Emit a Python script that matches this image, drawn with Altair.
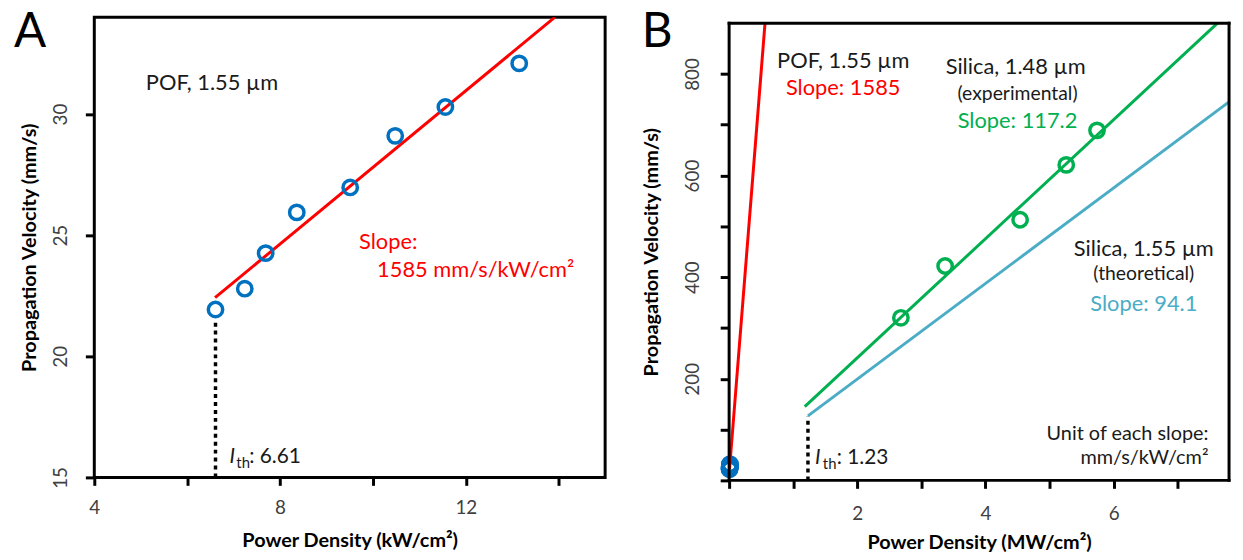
import altair as alt
import pandas as pd

# ---------------- data ----------------
# Panel A: POF, power density (kW/cm^2) vs propagation velocity (mm/s)
a_power = [6.61, 7.24, 7.69, 8.36, 9.51, 10.48, 11.56, 13.15]
a_velocity = [21.93, 22.79, 24.26, 25.94, 26.97, 29.10, 30.29, 32.09]
a_fit_x = [6.60, 13.92]
a_fit_y = [22.42, 34.0]
a_th_x = [6.61, 6.61]
a_th_y = [15.0, 21.45]

# Panel B: power density (MW/cm^2) vs propagation velocity (mm/s)
b_pof_x = [0.00661, 0.00724, 0.00769, 0.00836, 0.00951, 0.01048, 0.01156, 0.01315]
b_pof_y = [21.93, 22.79, 24.26, 25.94, 26.97, 29.10, 30.29, 32.09]
b_exp_x = [2.68, 3.37, 4.54, 5.26, 5.74]
b_exp_y = [320, 422, 513, 621, 689]
b_pof_fit_x = [0.0066, 0.56]
b_pof_fit_y = [22.4, 900]
b_exp_fit_x = [1.18, 7.62]
b_exp_fit_y = [145, 900]
b_theo_fit_x = [1.23, 7.80]
b_theo_fit_y = [127, 745]
b_th_x = [1.23, 1.23]
b_th_y = [0, 125]
b_frame_x = [0, 7.8]
b_frame_y = [0, 900]

a_xticks = [4, 6, 8, 10, 12, 14]
a_yticks = [15, 20, 25, 30]
b_xticks = [0, 1, 2, 3, 4, 5, 6, 7]
b_yticks = [0, 100, 200, 300, 400, 500, 600, 700, 800]

# ---------------- styling ----------------
FONT = "Lato"
TXT = "#1a1a1a"
RED = "#FF0000"
GREEN = "#00B050"
AQUA = "#4BACC6"
BLUE = "#0070C0"

A_W, A_H = 515, 464
B_W, B_H = 504, 467
B_TOP = 911.8   # plot area extends a little above the frame of panel B


def df(xs, ys):
    return pd.DataFrame({"x": xs, "y": ys})


def enc_a():
    x = alt.X("x:Q",
              scale=alt.Scale(domain=[4, 15], nice=False, zero=False),
              axis=alt.Axis(values=a_xticks,
                            labelExpr="datum.value % 4 == 0 ? datum.label : ''",
                            title="Power Density (kW/cm²)",
                            titleX=A_W / 2, titleY=70, titleAlign="center",
                            titleBaseline="alphabetic", titleAngle=0,
                            labelAngle=0, labelAlign="center", labelBaseline="top",
                            labelPadding=13, tickSize=8, labelFlush=False,
                            labelOverlap=False))
    y = alt.Y("y:Q",
              scale=alt.Scale(domain=[15, 34], nice=False, zero=False),
              axis=alt.Axis(values=a_yticks,
                            title="Propagation Velocity (mm/s)",
                            titleX=-59, titleY=A_H / 2, titleAngle=270,
                            titleAlign="center", titleBaseline="alphabetic",
                            labelAngle=270, labelAlign="center",
                            labelBaseline="alphabetic", labelPadding=19,
                            tickSize=9, labelFlush=False, labelOverlap=False))
    return x, y


def enc_b():
    x = alt.X("x:Q",
              scale=alt.Scale(domain=[0, 7.8], nice=False, zero=False),
              axis=alt.Axis(values=b_xticks,
                            labelExpr="(datum.value % 2 == 0 && datum.value > 0) ? datum.label : ''",
                            title="Power Density (MW/cm²)",
                            titleX=B_W / 2, titleY=69, titleAlign="center",
                            titleBaseline="alphabetic", titleAngle=0,
                            labelAngle=0, labelAlign="center", labelBaseline="top",
                            labelPadding=16, tickSize=8, labelFlush=False,
                            labelOverlap=False))
    y = alt.Y("y:Q",
              scale=alt.Scale(domain=[0, B_TOP], nice=False, zero=False),
              axis=alt.Axis(values=b_yticks,
                            labelExpr="(datum.value % 200 == 0 && datum.value > 0) ? datum.label : ''",
                            title="Propagation Velocity (mm/s)",
                            titleX=-72, titleY=(B_H + 6) / 2, titleAngle=270,
                            titleAlign="center", titleBaseline="alphabetic",
                            labelAngle=270, labelAlign="center",
                            labelBaseline="alphabetic", labelPadding=22,
                            tickSize=9, labelFlush=False, labelOverlap=False))
    return x, y


def line(enc, xs, ys, color, width=3, dash=None, clip=True):
    x, y = enc()
    kw = dict(color=color, strokeWidth=width, clip=clip)
    if dash:
        kw["strokeDash"] = dash
    return alt.Chart(df(xs, ys)).mark_line(**kw).encode(x=x, y=y)


def points(enc, xs, ys, color):
    x, y = enc()
    return alt.Chart(df(xs, ys)).mark_point(
        shape="circle", filled=False, size=210, strokeWidth=3.5,
        color=color, opacity=1).encode(x=x, y=y)


def note(enc, text, xv, yv, color=TXT, size=22, align="left", dx=0, dy=0,
         style="normal"):
    x, y = enc()
    return alt.Chart(df([xv], [yv])).mark_text(
        text=text, align=align, baseline="middle", font=FONT, fontSize=size,
        color=color, dx=dx, dy=dy, fontStyle=style).encode(x=x, y=y)


def letter(text, px, py):
    return alt.Chart(df([0], [0])).mark_text(
        text=text, align="left", baseline="top", font=FONT, fontSize=48,
        color="black").encode(x=alt.value(px), y=alt.value(py))


def ith(enc, xv, yv, value, d_i, d_th, d_col):
    return [
        note(enc, "I", xv, yv, size=21, dx=d_i, style="italic"),
        note(enc, "th", xv, yv, size=15, dx=d_th, dy=6),
        note(enc, ": " + value, xv, yv, size=21, dx=d_col),
    ]


def frame_b():
    # black box round panel B's data area (0..7.8, 0..900)
    x0, x1 = b_frame_x
    y0, y1 = b_frame_y
    parts = []
    for xs, ys in [([x0, x1], [y1, y1]), ([x0, x0], [y0, y1]),
                   ([x1, x1], [y0, y1]), ([x0, x1], [y0, y0])]:
        x, y = enc_b()
        parts.append(alt.Chart(df(xs, ys)).mark_line(
            color="black", strokeWidth=3, strokeCap="square", clip=False
        ).encode(x=x, y=y))
    return parts


DASH = [4, 4]

panel_a = alt.layer(
    line(enc_a, a_th_x, a_th_y, "black", width=3.5, dash=DASH),
    line(enc_a, a_fit_x, a_fit_y, RED),
    points(enc_a, a_power, a_velocity, BLUE),
    note(enc_a, "POF, 1.55 µm", 5.11, 31.26),
    note(enc_a, "Slope:", 9.70, 24.71, color=RED, size=22),
    note(enc_a, "1585 mm/s/kW/cm²", 10.09, 23.58, color=RED, size=22),
    *ith(enc_a, 6.61, 15.82, "6.61", 14, 21, 34),
    letter("A", -81, -8),
).properties(width=A_W, height=A_H,
             view=alt.ViewBackground(stroke="black", strokeWidth=3))

panel_b = alt.layer(
    line(enc_b, b_th_x, b_th_y, "black", width=3.5, dash=DASH),
    line(enc_b, b_exp_fit_x, b_exp_fit_y, GREEN),
    line(enc_b, b_theo_fit_x, b_theo_fit_y, AQUA),
    points(enc_b, b_exp_x, b_exp_y, GREEN),
    points(enc_b, b_pof_x, b_pof_y, BLUE),
    line(enc_b, b_pof_fit_x, b_pof_fit_y, RED),
    *frame_b(),
    note(enc_b, "POF, 1.55 µm", 1.78, 826, align="center"),
    note(enc_b, "Slope: 1585", 1.78, 773, color=RED, align="center"),
    note(enc_b, "Silica, 1.48 µm", 4.47, 814, align="center"),
    note(enc_b, "(experimental)", 4.50, 761, size=19.5, align="center"),
    note(enc_b, "Slope: 117.2", 4.50, 707, color=GREEN, align="center"),
    note(enc_b, "Silica, 1.55 µm", 6.47, 455, align="center"),
    note(enc_b, "(theoretical)", 6.47, 406, size=19.5, align="center"),
    note(enc_b, "Slope: 94.1", 6.47, 348, color=AQUA, align="center"),
    note(enc_b, "Unit of each slope:", 7.48, 92, size=20, align="right"),
    note(enc_b, "mm/s/kW/cm²", 7.48, 43, size=20, align="right"),
    *ith(enc_b, 1.23, 43, "1.23", 7, 15, 29),
    letter("B", -88, -8),
).properties(width=B_W, height=B_H,
             view=alt.ViewBackground(strokeOpacity=0))

chart = alt.hconcat(panel_a, panel_b, spacing=35).properties(
    padding={"left": 4, "top": -3, "right": 0, "bottom": 0},
    background="white",
).configure_view(
    stroke="black", strokeWidth=3
).configure_axis(
    domain=False, grid=False, ticks=True, tickColor="black", tickWidth=3,
    labelFont=FONT, labelFontSize=19, labelColor="#404040",
    titleFont=FONT, titleFontSize=20, titleFontWeight="bold", titleColor="black"
)

chart.save("out.html", embed_options={"renderer": "svg", "actions": False})
